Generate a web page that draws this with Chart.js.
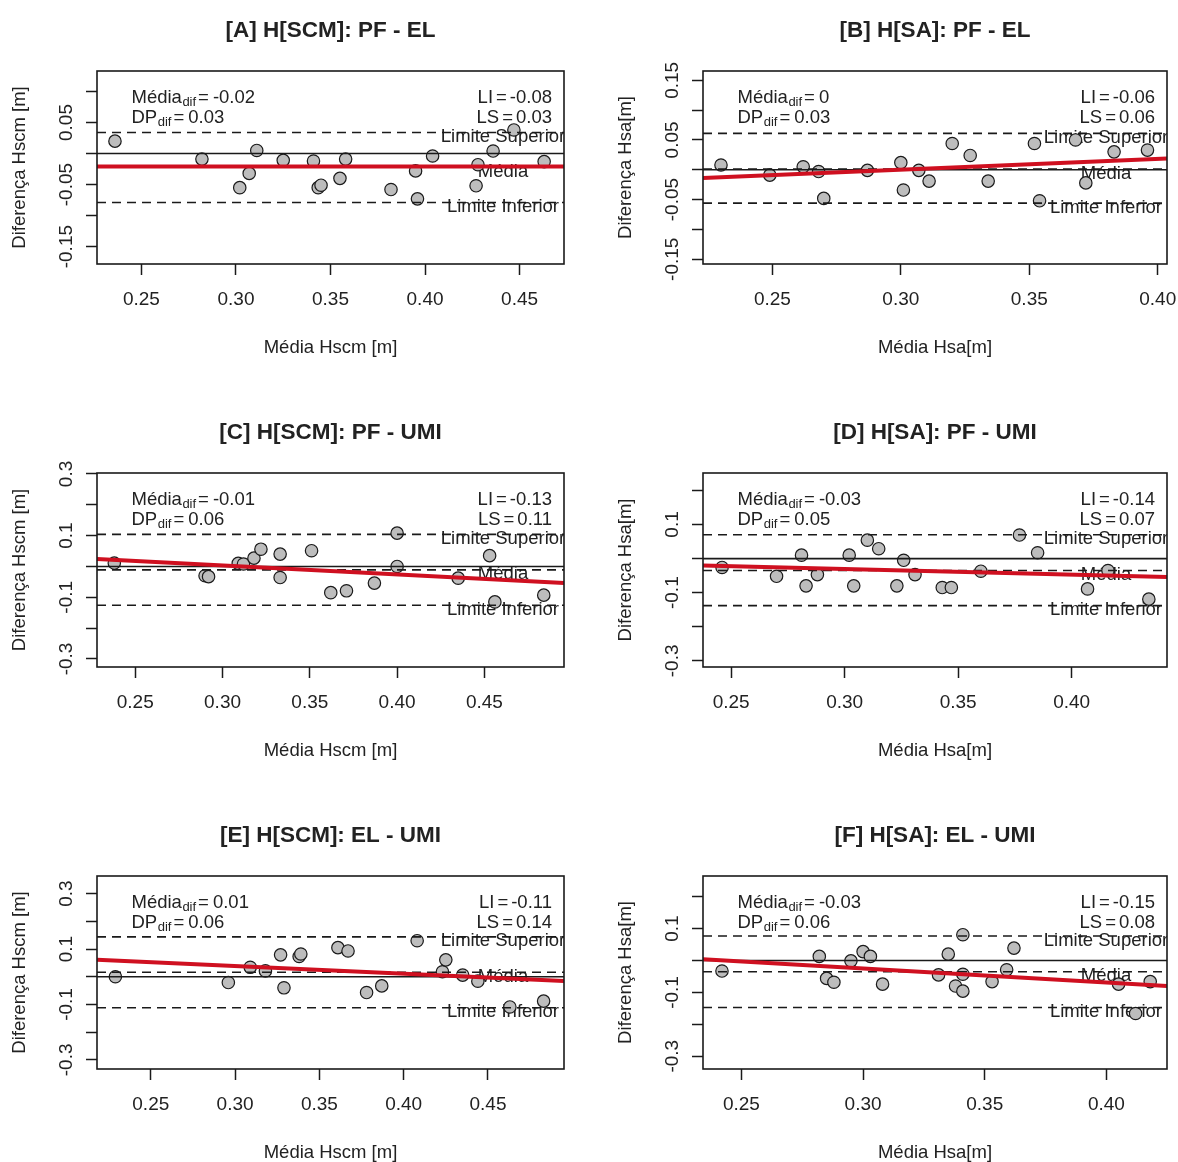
<!DOCTYPE html>
<html><head><meta charset="utf-8">
<script src="https://cdn.jsdelivr.net/npm/chart.js@4.4.1/dist/chart.umd.min.js"></script>
<style>
html,body{margin:0;padding:0;background:#fff;}
#wrap{position:relative;width:1178px;height:1162px;overflow:hidden;background:#fff;}
#wrap canvas{position:absolute;}
</style></head><body><div id="wrap"></div>
<script>
// ---------- DATA ----------
const panelTitles = ['[A] H[SCM]: PF - EL','[B] H[SA]: PF - EL','[C] H[SCM]: PF - UMI','[D] H[SA]: PF - UMI','[E] H[SCM]: EL - UMI','[F] H[SA]: EL - UMI'];
const xTitles = ['Média Hscm [m]','Média Hsa[m]','Média Hscm [m]','Média Hsa[m]','Média Hscm [m]','Média Hsa[m]'];
const yTitles = ['Diferença Hscm [m]','Diferença Hsa[m]','Diferença Hscm [m]','Diferença Hsa[m]','Diferença Hscm [m]','Diferença Hsa[m]'];

const aX = [0.236,0.282,0.311,0.307,0.302,0.325,0.341,0.3435,0.345,0.358,0.355,0.382,0.395,0.396,0.404,0.428,0.427,0.436,0.447,0.463];
const aY = [0.020,-0.009,0.005,-0.032,-0.055,-0.011,-0.012,-0.055,-0.051,-0.009,-0.040,-0.058,-0.028,-0.073,-0.004,-0.018,-0.052,0.004,0.038,-0.013];
const bX = [0.230,0.249,0.262,0.268,0.270,0.287,0.300,0.301,0.307,0.311,0.320,0.327,0.334,0.352,0.354,0.368,0.372,0.383,0.396];
const bY = [0.008,-0.009,0.005,-0.003,-0.048,-0.001,0.012,-0.034,-0.001,-0.019,0.044,0.024,-0.019,0.044,-0.052,0.050,-0.022,0.030,0.033];
const cX = [0.238,0.290,0.292,0.309,0.312,0.318,0.322,0.333,0.333,0.351,0.362,0.371,0.387,0.400,0.400,0.435,0.453,0.456,0.484];
const cY = [0.011,-0.030,-0.033,0.010,0.008,0.027,0.056,0.040,-0.036,0.051,-0.085,-0.079,-0.054,0.108,0.000,-0.038,0.035,-0.115,-0.093];
const dX = [0.246,0.270,0.281,0.283,0.288,0.302,0.304,0.310,0.315,0.323,0.326,0.331,0.343,0.347,0.360,0.377,0.385,0.407,0.416,0.434];
const dY = [-0.026,-0.052,0.010,-0.080,-0.047,0.010,-0.080,0.054,0.029,-0.080,-0.005,-0.047,-0.085,-0.085,-0.037,0.069,0.017,-0.089,-0.035,-0.119];
const eX = [0.229,0.296,0.309,0.318,0.327,0.329,0.338,0.339,0.361,0.367,0.378,0.387,0.408,0.423,0.425,0.435,0.444,0.463,0.483];
const eY = [0.000,-0.021,0.034,0.021,0.079,-0.040,0.073,0.082,0.105,0.093,-0.057,-0.033,0.130,0.018,0.061,0.006,-0.016,-0.109,-0.088];
const fX = [0.242,0.282,0.285,0.288,0.295,0.300,0.303,0.308,0.331,0.335,0.338,0.341,0.341,0.341,0.353,0.359,0.362,0.405,0.412,0.418];
const fY = [-0.033,0.013,-0.056,-0.068,-0.001,0.028,0.013,-0.074,-0.045,0.020,-0.080,-0.043,0.081,-0.096,-0.066,-0.029,0.039,-0.074,-0.166,-0.066];

// Bland-Altman statistics (text shown) and line levels
const meanDifTxt = ['-0.02','0','-0.01','-0.03','0.01','-0.03'];
const sdDifTxt   = ['0.03','0.03','0.06','0.05','0.06','0.06'];
const liTxt      = ['-0.08','-0.06','-0.13','-0.14','-0.11','-0.15'];
const lsTxt      = ['0.03','0.06','0.11','0.07','0.14','0.08'];
const meanLine   = [-0.022, 0.001, -0.011, -0.035, 0.016, -0.035];
const lsLine     = [0.034, 0.061, 0.104, 0.070, 0.144, 0.077];
const liLine     = [-0.079, -0.056, -0.126, -0.138, -0.112, -0.147];
// regression line (value at left and right edge of the plot)
const regLeft    = [-0.021, -0.014, 0.024, -0.020, 0.061, 0.004];
const regRight   = [-0.021, 0.019, -0.054, -0.054, -0.015, -0.080];

// axis ranges and ticks
const xMin = [0.2265, 0.2230, 0.2281, 0.2376, 0.2181, 0.2342];
const xMax = [0.4735, 0.4036, 0.4956, 0.4420, 0.4951, 0.4249];
const yMin = [-0.178, -0.158, -0.326, -0.318, -0.333, -0.340];
const yMax = [0.133, 0.1656, 0.303, 0.251, 0.3636, 0.265];
const xTicks = [[0.25,0.30,0.35,0.40,0.45],[0.25,0.30,0.35,0.40],[0.25,0.30,0.35,0.40,0.45],[0.25,0.30,0.35,0.40],[0.25,0.30,0.35,0.40,0.45],[0.25,0.30,0.35,0.40]];
const xTickLabels = [['0.25','0.30','0.35','0.40','0.45'],['0.25','0.30','0.35','0.40'],['0.25','0.30','0.35','0.40','0.45'],['0.25','0.30','0.35','0.40'],['0.25','0.30','0.35','0.40','0.45'],['0.25','0.30','0.35','0.40']];
const yTicks = [[0.1,0.05,0,-0.05,-0.1,-0.15],[0.15,0.1,0.05,0,-0.05,-0.1,-0.15],[0.3,0.2,0.1,0,-0.1,-0.2,-0.3],[0.2,0.1,0,-0.1,-0.2,-0.3],[0.3,0.2,0.1,0,-0.1,-0.2,-0.3],[0.2,0.1,0,-0.1,-0.2,-0.3]];
const yTickLabels = [['','0.05','','-0.05','','-0.15'],['0.15','','0.05','','-0.05','','-0.15'],['0.3','','0.1','','-0.1','','-0.3'],['','0.1','','-0.1','','-0.3'],['0.3','','0.1','','-0.1','','-0.3'],['','0.1','','-0.1','','-0.3']];

const seriesX = [aX,bX,cX,dX,eX,fX];
const seriesY = [aY,bY,cY,dY,eY,fY];

// ---------- LAYOUT / STYLE ----------
const FONT = '"Liberation Sans", Arial, sans-serif';
const TXT = '#222';
const COLS = [{cx:0,cw:589,left:97,right:564},{cx:589,cw:589,left:703,right:1167}];
const ROWS = [{cy:0,ch:402,top:71,bottom:264},{cy:402,ch:403,top:473,bottom:667},{cy:805,ch:357,top:876,bottom:1069}];

function drawSub(ctx, main, sub, val, x, y) {
  ctx.textAlign = 'left';
  ctx.font = '18.5px ' + FONT;
  ctx.fillText(main, x, y);
  x += ctx.measureText(main).width + 0.5;
  ctx.font = '13px ' + FONT;
  ctx.fillText(sub, x, y + 5);
  x += ctx.measureText(sub).width + 2;
  ctx.font = '18.5px ' + FONT;
  ctx.fillText('=', x, y);
  x += ctx.measureText('=').width + 4;
  ctx.fillText(val, x, y);
}
function drawEqRight(ctx, lab, val, xr, y) {
  ctx.font = '18.5px ' + FONT;
  ctx.textAlign = 'right';
  ctx.fillText(val, xr, y);
  xr -= ctx.measureText(val).width + 3;
  ctx.fillText('=', xr, y);
  xr -= ctx.measureText('=').width + 3;
  ctx.fillText(lab, xr, y);
}

function makePlugin(i) {
  return {
    id: 'ba' + i,
    beforeDatasetsDraw(chart) {
      const ctx = chart.ctx, a = chart.chartArea, ys = chart.scales.y;
      ctx.save();
      ctx.fillStyle = TXT;
      ctx.textBaseline = 'middle';
      const y1 = a.top + 26.6, y2 = a.top + 46.6;
      drawSub(ctx, 'Média', 'dif', meanDifTxt[i], a.left + 34.5, y1);
      drawSub(ctx, 'DP', 'dif', sdDifTxt[i], a.left + 34.5, y2);
      drawEqRight(ctx, 'LI', liTxt[i], a.right - 12, y1);
      drawEqRight(ctx, 'LS', lsTxt[i], a.right - 12, y2);
      ctx.beginPath();
      ctx.rect(a.left, a.top, a.right - a.left, a.bottom - a.top);
      ctx.clip();
      ctx.font = '18.5px ' + FONT;
      ctx.textAlign = 'center';
      const lx = a.right - 61;
      ctx.fillText('Limite Superior', lx, ys.getPixelForValue(lsLine[i]) + 4.5);
      ctx.fillText('Média', lx, ys.getPixelForValue(meanLine[i]) + 4.5);
      ctx.fillText('Limite Inferior', lx, ys.getPixelForValue(liLine[i]) + 4.5);
      ctx.restore();
    },
    afterDraw(chart) {
      const ctx = chart.ctx, a = chart.chartArea, xs = chart.scales.x, ys = chart.scales.y;
      ctx.save();
      ctx.strokeStyle = '#1a1a1a';
      ctx.lineWidth = 1.6;
      ctx.strokeRect(a.left, a.top, a.right - a.left, a.bottom - a.top);
      ctx.fillStyle = TXT;
      ctx.textBaseline = 'middle';
      ctx.textAlign = 'center';
      // x tick labels
      ctx.font = '19px ' + FONT;
      xs.ticks.forEach((t, j) => {
        ctx.fillText(xTickLabels[i][j], xs.getPixelForValue(t.value), a.bottom + 35.3);
      });
      // y tick labels (rotated)
      ys.ticks.forEach((t, j) => {
        const lab = yTickLabels[i][j];
        if (!lab) return;
        ctx.save();
        ctx.translate(a.left - 30, ys.getPixelForValue(t.value));
        ctx.rotate(-Math.PI / 2);
        ctx.fillText(lab, 0, 0);
        ctx.restore();
      });
      const cxm = (a.left + a.right) / 2, cym = (a.top + a.bottom) / 2;
      // title
      ctx.font = 'bold 22.5px ' + FONT;
      ctx.fillText(panelTitles[i], cxm, a.top - 40);
      // axis titles
      ctx.font = '18.5px ' + FONT;
      ctx.fillText(xTitles[i], cxm, a.bottom + 84.3);
      ctx.save();
      ctx.translate(a.left - 77, cym);
      ctx.rotate(-Math.PI / 2);
      ctx.fillText(yTitles[i], 0, 0);
      ctx.restore();
      ctx.restore();
    }
  };
}

const wrap = document.getElementById('wrap');
for (let i = 0; i < 6; i++) {
  const col = COLS[i % 2], row = ROWS[Math.floor(i / 2)];
  const cv = document.createElement('canvas');
  cv.width = col.cw; cv.height = row.ch;
  cv.style.left = col.cx + 'px'; cv.style.top = row.cy + 'px';
  cv.style.width = col.cw + 'px'; cv.style.height = row.ch + 'px';
  wrap.appendChild(cv);
  const hline = v => [{x: xMin[i], y: v}, {x: xMax[i], y: v}];
  const pts = seriesX[i].map((x, k) => ({x: x, y: seriesY[i][k]}));
  const lineDs = (data, color, width, dash, order) => ({
    data: data, showLine: true, borderColor: color, borderWidth: width, borderDash: dash,
    pointRadius: 0, pointHoverRadius: 0, fill: false, tension: 0, order: order
  });
  new Chart(cv, {
    type: 'scatter',
    data: {
      datasets: [
        lineDs([{x: xMin[i], y: regLeft[i]}, {x: xMax[i], y: regRight[i]}], '#cf1020', 4, [], 0),
        lineDs(hline(lsLine[i]), '#1a1a1a', 1.6, [9, 6], 1),
        lineDs(hline(meanLine[i]), '#1a1a1a', 1.6, [9, 6], 1),
        lineDs(hline(liLine[i]), '#1a1a1a', 1.6, [9, 6], 1),
        lineDs(hline(0), '#1a1a1a', 1.6, [], 2),
        { data: pts, backgroundColor: '#bdbdbd', borderColor: '#1a1a1a', borderWidth: 1.2,
          pointRadius: 6.2, pointHoverRadius: 6.2, order: 3 }
      ]
    },
    options: {
      responsive: false, animation: false, devicePixelRatio: 1, events: [],
      layout: { padding: { top: row.top - row.cy, right: col.cx + col.cw - col.right, bottom: 0, left: 0 } },
      plugins: { legend: { display: false }, tooltip: { enabled: false }, title: { display: false } },
      scales: {
        x: {
          type: 'linear', position: 'bottom', min: xMin[i], max: xMax[i],
          afterBuildTicks: s => { s.ticks = xTicks[i].map(v => ({value: v})); },
          afterFit: s => { s.height = row.cy + row.ch - row.bottom; },
          ticks: { display: false },
          grid: { display: true, drawOnChartArea: false, drawTicks: true, tickLength: 11, tickColor: '#1a1a1a', tickWidth: 1.5, color: '#1a1a1a' },
          border: { display: false }
        },
        y: {
          type: 'linear', position: 'left', min: yMin[i], max: yMax[i],
          afterBuildTicks: s => { s.ticks = yTicks[i].map(v => ({value: v})); },
          afterFit: s => { s.width = col.left - col.cx; },
          ticks: { display: false },
          grid: { display: true, drawOnChartArea: false, drawTicks: true, tickLength: 11, tickColor: '#1a1a1a', tickWidth: 1.5, color: '#1a1a1a' },
          border: { display: false }
        }
      }
    },
    plugins: [makePlugin(i)]
  });
}
</script>
</body></html>
